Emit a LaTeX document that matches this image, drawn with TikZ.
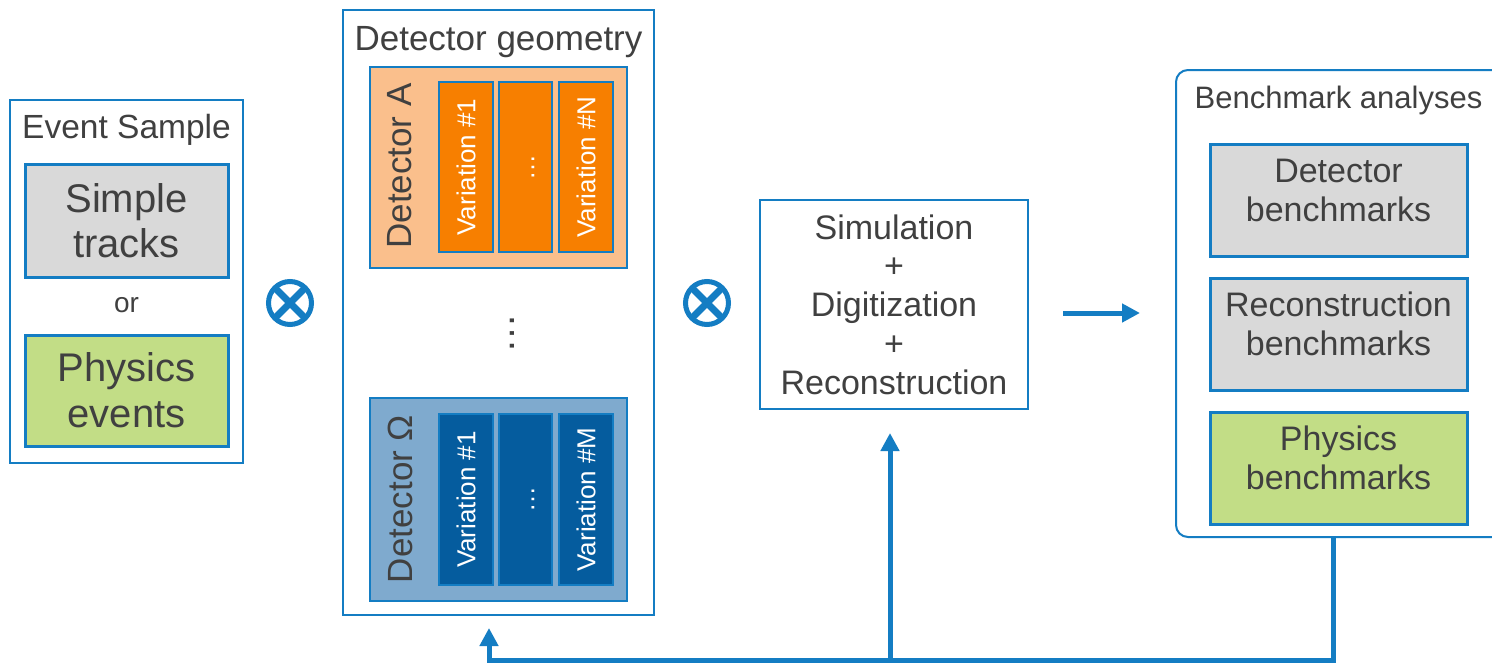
\documentclass[tikz,border=0pt]{standalone}
\usepackage{fontspec}
\setmainfont{Liberation Sans}
\usetikzlibrary{arrows.meta}
\definecolor{bl}{RGB}{20,125,195}
\definecolor{txt}{RGB}{64,64,64}
\definecolor{grayfill}{RGB}{217,217,217}
\definecolor{greenfill}{RGB}{194,221,134}
\definecolor{lorange}{RGB}{250,191,140}
\definecolor{dorange}{RGB}{247,127,0}
\definecolor{lblue}{RGB}{127,170,206}
\definecolor{dblue}{RGB}{5,92,158}
\newcommand\fsz[2]{\fontsize{#1pt}{#2pt}\selectfont}
\tikzset{
  outerbox/.style={draw=bl, line width=2pt, fill=white, inner sep=0pt, outer sep=0pt},
  innerbox/.style={draw=bl, line width=3pt, inner sep=0pt, outer sep=0pt, align=center, text=txt},
  detbox/.style={draw=bl, line width=2.5pt, inner sep=0pt, outer sep=0pt, minimum width=257pt},
  vbox/.style={draw=bl, line width=2.5pt, inner sep=0pt, outer sep=0pt, rotate=90,
    minimum height=54pt, text=white, font=\fsz{26}{30}},
  lbl/.style={text=txt, inner sep=0pt, outer sep=0pt},
  dots/.style={inner sep=0pt, outer sep=0pt, rotate=90},
  otimes/.style={circle, draw=bl, line width=5pt, minimum size=43pt, inner sep=0pt, outer sep=0pt},
  xline/.style={bl, line width=7pt},
  arr/.style={bl, line width=5pt, -{Triangle[length=18pt,width=18pt]}},
}
\begin{document}
\begin{tikzpicture}[x=1pt,y=-1pt]
\useasboundingbox (0,0) rectangle (1492,665);
\clip (0,0) rectangle (1492,665);
\fill[white] (0,0) rectangle (1492,665);

% Event sample
\node[outerbox, minimum width=233pt, minimum height=363pt] (event) at (126.5,281.5) {};
\node[lbl, font=\fsz{33.5}{38}, anchor=base] (eventt) at (126.5,138) {Event Sample};
\node[innerbox, fill=grayfill, minimum width=203pt, minimum height=113pt, font=\fsz{40}{45}] (simple) at (126.5,220.5) {Simple\\tracks};
\node[lbl, font=\fsz{28}{32}, anchor=base] (or) at (126.5,312) {or};
\node[innerbox, fill=greenfill, minimum width=203pt, minimum height=111pt, font=\fsz{40}{46}] (phys) at (126.5,390.5) {Physics\\events};

% otimes 1
\node[otimes] (ot1) at (290,303) {};
\draw[xline] (ot1.north east) -- (ot1.south west) (ot1.north west) -- (ot1.south east);

% Detector geometry
\node[outerbox, minimum width=311pt, minimum height=605pt] (geo) at (498.5,312.5) {};
\node[lbl, font=\fsz{35}{40}, anchor=base] (geot) at (498.5,50) {Detector geometry};

\node[detbox, fill=lorange, minimum height=201pt] (detA) at (498.5,167.5) {};
\node[lbl, rotate=90, font=\fsz{35}{40}] (detAl) at (400,166) {Detector A};
\node[vbox, fill=dorange, minimum width=170pt] (vA1) at (466,167) {Variation \#1};
\node[vbox, fill=dorange, minimum width=170pt, minimum height=53pt] (vAm) at (525.5,167) {};
\node[dots, text=white, font=\fsz{26}{30}] (vAmd) at (533,167) {…};
\node[vbox, fill=dorange, minimum width=170pt] (vAN) at (586,167) {Variation \#N};

\node[dots, text=txt, font=\fsz{40}{44}] (vdots) at (512,333) {…};

\node[detbox, fill=lblue, minimum height=203pt] (detO) at (498.5,499.5) {};
\node[lbl, rotate=90, font=\fsz{35}{40}] (detOl) at (400,499) {Detector Ω};
\node[vbox, fill=dblue, minimum width=171pt] (vO1) at (466,499.5) {Variation \#1};
\node[vbox, fill=dblue, minimum width=171pt, minimum height=53pt] (vOm) at (525.5,499.5) {};
\node[dots, text=white, font=\fsz{26}{30}] (vOmd) at (533,499) {…};
\node[vbox, fill=dblue, minimum width=171pt] (vOM) at (586,499.5) {Variation \#M};

% otimes 2
\node[otimes] (ot2) at (707,303) {};
\draw[xline] (ot2.north east) -- (ot2.south west) (ot2.north west) -- (ot2.south east);

% Simulation box
\node[outerbox, align=center, text=txt, font=\fsz{34}{38.75}, minimum width=268pt, minimum height=209pt] (sim) at (894,304.5)
  {Simulation\\+\\Digitization\\+\\Reconstruction};

% Benchmark analyses
\node[outerbox, rounded corners=12pt, minimum width=334pt, minimum height=467pt] (bench) at (1343,303.5) {};
\node[lbl, font=\fsz{31}{36}, anchor=base] (bencht) at (1338.5,108) {Benchmark analyses};
\node[innerbox, fill=grayfill, minimum width=257pt, minimum height=112pt] (detb) at (1338.5,200) {};
\node[lbl, align=center, font=\fsz{34}{39}] (detbt) at ([yshift=10pt]detb.center) {Detector\\benchmarks};
\node[innerbox, fill=grayfill, minimum width=257pt, minimum height=112pt] (recb) at (1338.5,334) {};
\node[lbl, align=center, font=\fsz{34}{39}] (recbt) at ([yshift=10pt]recb.center) {Reconstruction\\benchmarks};
\node[innerbox, fill=greenfill, minimum width=257pt, minimum height=112pt] (phyb) at (1338.5,468) {};
\node[lbl, align=center, font=\fsz{34}{39}] (phybt) at ([yshift=10pt]phyb.center) {Physics\\benchmarks};

% connectors
\coordinate (arY) at (0,313);
\draw[arr, shorten <=35pt, shorten >=36pt] (sim.east |- arY) -- (bench.west |- arY);

\coordinate (fbR) at (1333,660);
\coordinate (fbM) at (890,660);
\coordinate (fbL) at (489,660);
\draw[arr, shorten >=13pt] (bench.south -| fbR) -- (fbR) -- (fbL) -- (geo.south -| fbL);
\draw[arr, shorten >=24pt] (fbM) -- (sim.south -| fbM);
\end{tikzpicture}
\end{document}
